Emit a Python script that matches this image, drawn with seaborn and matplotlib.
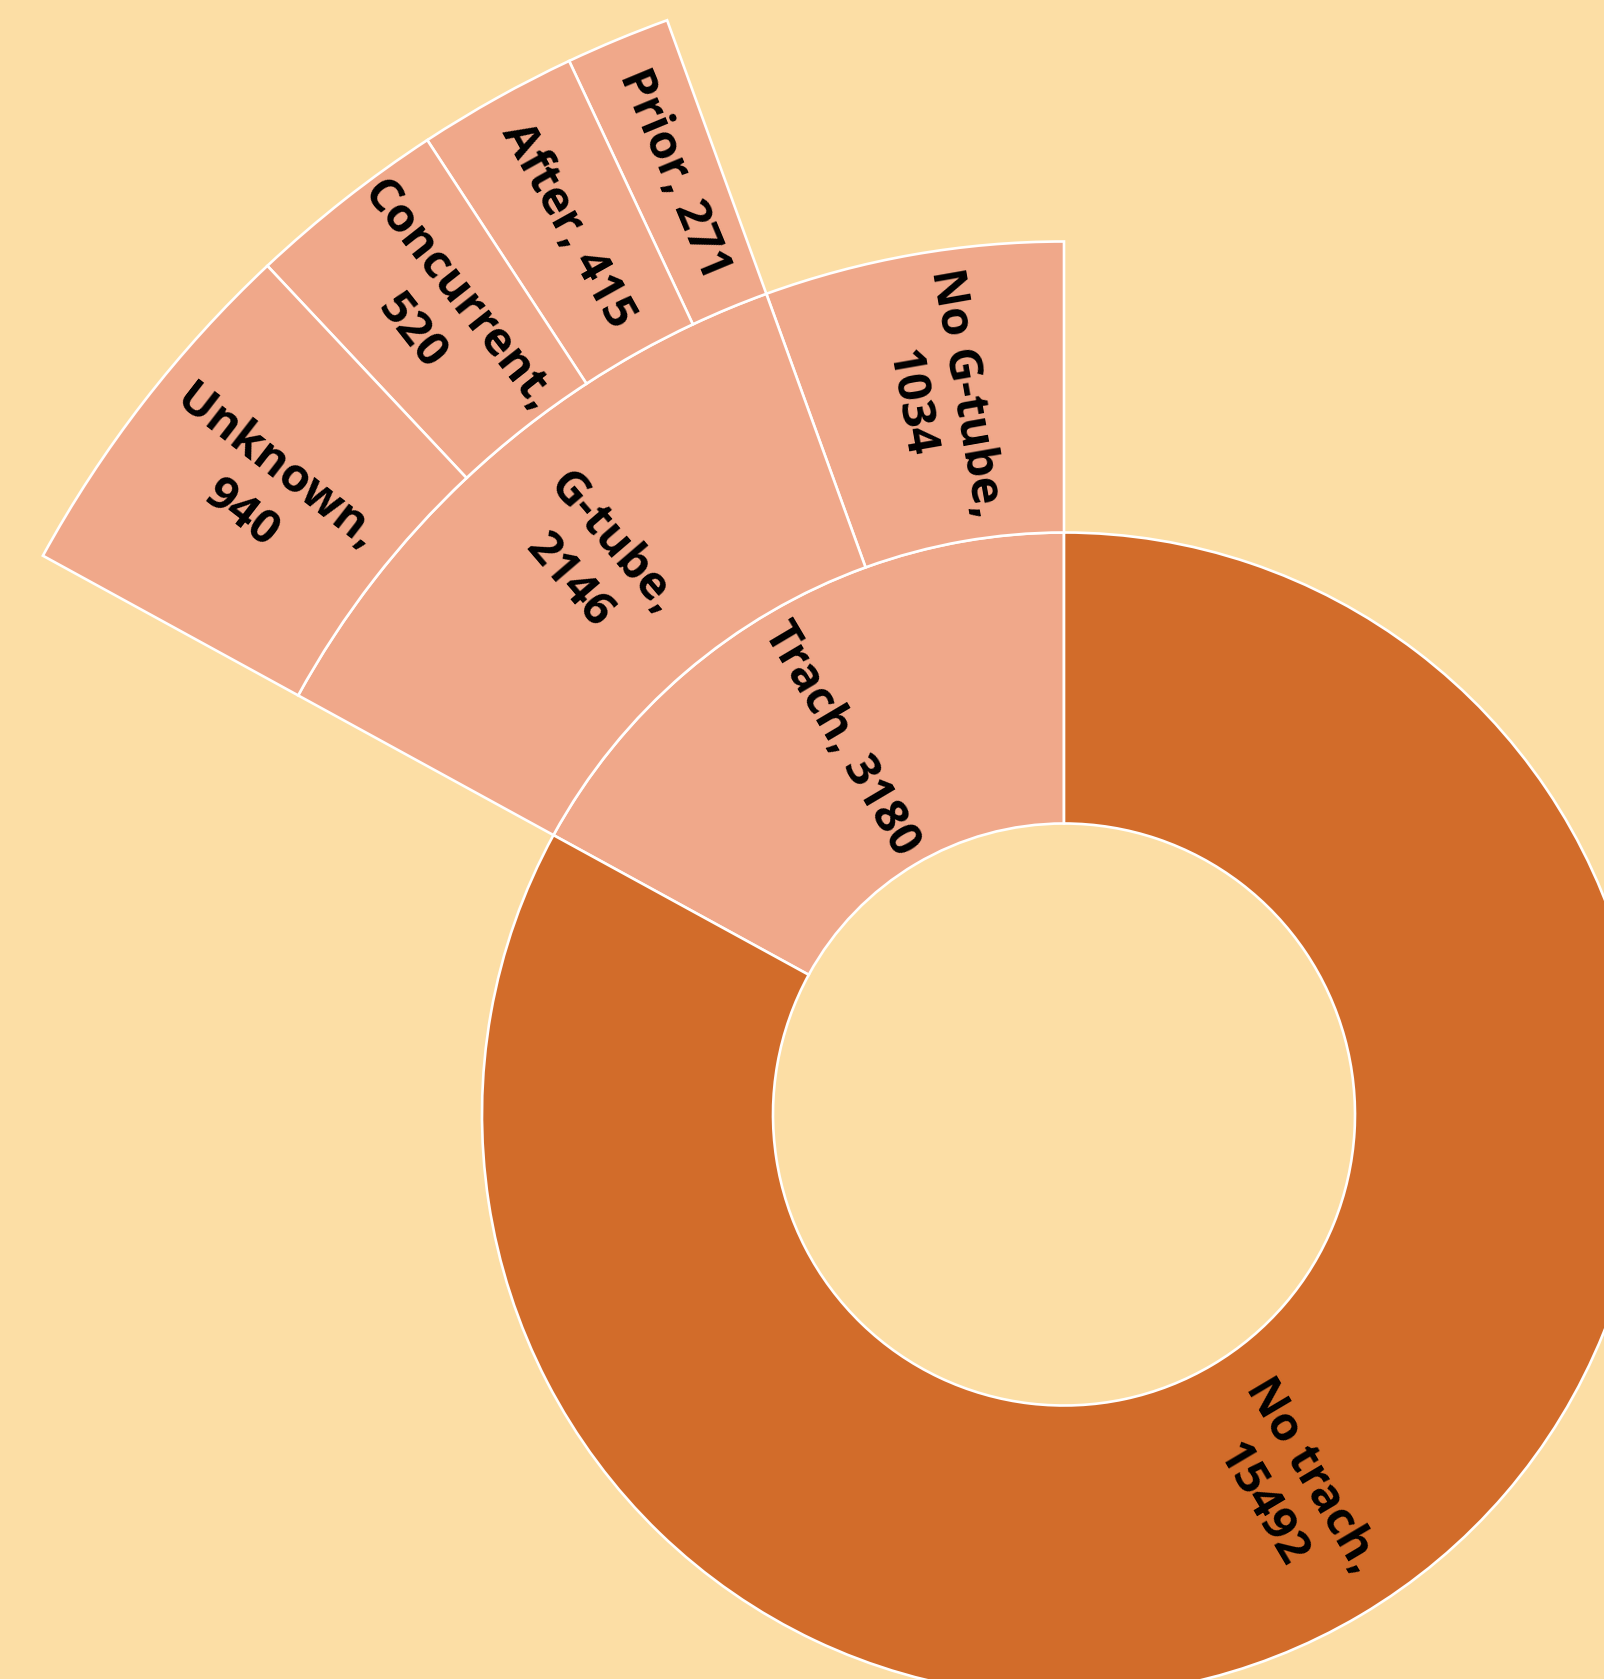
import matplotlib
matplotlib.use('Agg')
import matplotlib.pyplot as plt
import numpy as np
import seaborn as sns

# Sunburst data: trach -> G-tube -> timing
trach_names = ['Trach', 'No trach']
trach_values = [3180, 15492]
trach_breaks = [' ', '\n']

gtube_names = ['No G-tube', 'G-tube']
gtube_values = [1034, 2146]
gtube_breaks = ['\n', '\n']

timing_names = ['Prior', 'After', 'Concurrent', 'Unknown']
timing_values = [271, 415, 520, 940]
timing_breaks = [' ', ' ', '\n', '\n']

bg = '#FCDEA5'
dark = '#D26C2A'
salmon = '#F0A88A'

sns.set_theme(style='white')
plt.rcParams['font.family'] = ['Open Sans', 'DejaVu Sans']

fig = plt.figure(figsize=(16.04, 16.79), dpi=100)
fig.patch.set_facecolor(bg)
ax = fig.add_axes([0, 0, 1, 1])
ax.set_facecolor(bg)

hole = 291
width = 291
edge = dict(edgecolor='white', linewidth=1.9)

# ring 1
w1, _ = ax.pie(trach_values, radius=hole + width, startangle=90, counterclock=True,
               colors=[salmon, dark], wedgeprops=dict(width=width, **edge))

# ring 2 (only under Trach)
rest2 = sum(trach_values) - sum(gtube_values)
w2, _ = ax.pie(gtube_values + [rest2], radius=hole + 2 * width, startangle=90,
               colors=[salmon, salmon, 'none'], wedgeprops=dict(width=width, **edge))
w2[-1].set_visible(False)

# ring 3 (only under G-tube)
rest3 = sum(trach_values) - sum(timing_values) - gtube_values[0]
w3, _ = ax.pie([gtube_values[0]] + timing_values + [rest3], radius=hole + 3 * width,
               startangle=90, colors=['none'] + [salmon] * 4 + ['none'],
               wedgeprops=dict(width=width, **edge))
w3[0].set_visible(False)
w3[-1].set_visible(False)


def label(wedge, text):
    # radial text in the middle of the wedge
    mid = (wedge.theta1 + wedge.theta2) / 2
    r = wedge.r - wedge.width / 2
    rad = np.deg2rad(mid)
    rot = mid % 360
    if 90 < rot <= 270:
        rot -= 180
    elif rot > 270:
        rot -= 360
    ax.text(r * np.cos(rad), r * np.sin(rad), text, rotation=rot, rotation_mode='anchor',
            ha='center', va='center', fontsize=34, fontweight='bold', color='black',
            linespacing=1.3, multialignment='center')


for wdg, n, v, b in zip(w1, trach_names, trach_values, trach_breaks):
    label(wdg, f'{n},{b}{v}')
for wdg, n, v, b in zip(w2[:2], gtube_names, gtube_values, gtube_breaks):
    label(wdg, f'{n},{b}{v}')
for wdg, n, v, b in zip(w3[1:5], timing_names, timing_values, timing_breaks):
    label(wdg, f'{n},{b}{v}')

ax.set_xlim(-1064, 1604 - 1064)
ax.set_ylim(-(1679 - 1114.5), 1114.5)
ax.set_aspect('equal')
ax.axis('off')

fig.savefig('out.png', dpi=100, facecolor=bg)
